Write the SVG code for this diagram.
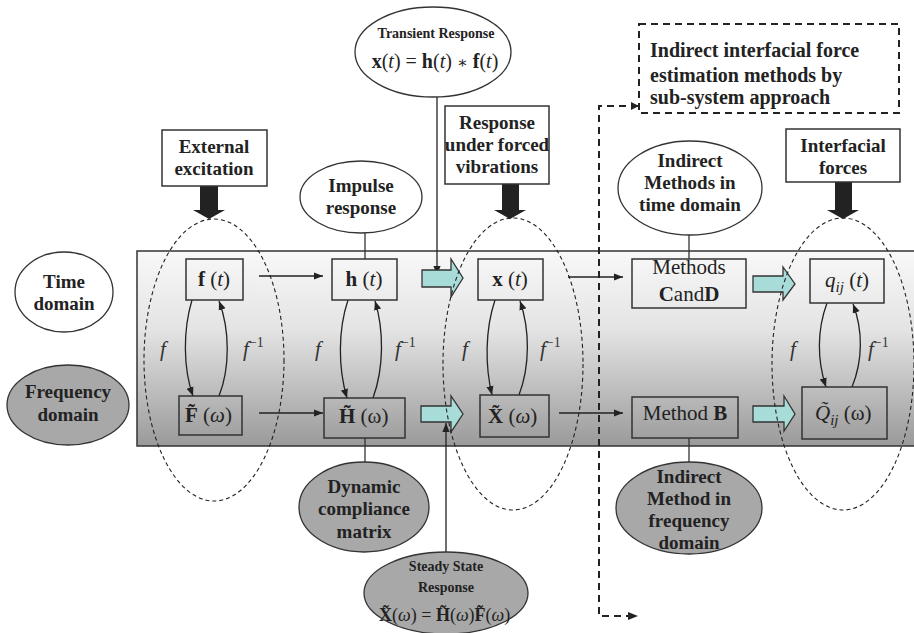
<svg xmlns="http://www.w3.org/2000/svg" width="914" height="633" viewBox="0 0 914 633" font-family="'Liberation Serif', 'Times New Roman', 'DejaVu Serif', serif">
<defs>
<linearGradient id="band" x1="0" y1="0" x2="0" y2="1">
<stop offset="0" stop-color="#f8f8f8"/>
<stop offset="0.4" stop-color="#e4e4e4"/>
<stop offset="1" stop-color="#9a9a9a"/>
</linearGradient>
<marker id="ah" viewBox="0 0 10 10" refX="10" refY="5" markerWidth="9" markerHeight="9" markerUnits="userSpaceOnUse" orient="auto">
<path d="M0,1 L10,5 L0,9 Z" fill="#222"/>
</marker>
<marker id="ahd" viewBox="0 0 10 10" refX="10" refY="5" markerWidth="10" markerHeight="10" markerUnits="userSpaceOnUse" orient="auto">
<path d="M0,1 L10,5 L0,9 Z" fill="#222"/>
</marker>
</defs>
<style>
text{font-family:'Liberation Serif','Times New Roman','DejaVu Serif',serif}
.bx{fill:none;stroke:#333;stroke-width:1.5}
.wb{fill:#fff;stroke:#333;stroke-width:1.5}
.we{fill:#fff;stroke:#333;stroke-width:1.3}
.ge{fill:#a8a8a8;stroke:#333;stroke-width:1.3}
.cy{fill:#a8dcd8;stroke:#333;stroke-width:1.3}
.blk{fill:#222}
.ln{fill:none;stroke:#333;stroke-width:1.3}
.ar{fill:none;stroke:#222;stroke-width:1.3;marker-end:url(#ah)}
.de{fill:none;stroke:#222;stroke-width:1.1;stroke-dasharray:4 3}
.dl{fill:none;stroke:#222;stroke-width:2;stroke-dasharray:7 5}
.lb{font-weight:bold;font-size:19px;fill:#222;text-anchor:middle}
.lbs{font-weight:bold;font-size:20px;fill:#222}
.sm{font-weight:bold;font-size:14px;fill:#222;text-anchor:middle}
.mt{font-size:21px;fill:#222}
.fl{font-style:italic;font-size:21px;fill:#333}
</style>

<rect x="137" y="251" width="800" height="195" fill="url(#band)" stroke="#333" stroke-width="1.5"/>

<g id="connectors">
<path class="ar" d="M259,276 H323"/>
<path class="ar" d="M259,413 H323"/>
<path class="ar" d="M568,277 H623"/>
<path class="ar" d="M559,413 H623"/>
<path class="ar" d="M437,97 V275"/>
<path class="ar" d="M446,552 V423"/>
<path class="ln" d="M365,233 V259"/>
<path class="ln" d="M365,438 V462"/>
<path class="ln" d="M689,235 V259"/>
<path class="ln" d="M689,438 V462"/>
<path class="ar" d="M192,300 C183,330 183,368 193,396"/>
<path class="ar" d="M219,396 C230,368 230,330 219,301"/>
<path class="ar" d="M348,300 C338,330 338,368 347,398"/>
<path class="ar" d="M373,398 C384,368 384,330 375,301"/>
<path class="ar" d="M495,300 C485,330 485,366 492,395"/>
<path class="ar" d="M519,395 C530,366 530,330 520,301"/>
<path class="ar" d="M827,303 C817,330 817,360 826,387"/>
<path class="ar" d="M852,387 C863,360 863,330 853,304"/>
<path class="dl" d="M638,106 H599 V616 H638" style="marker-end:url(#ahd)"/>
<path d="M631,102 L639,106 L631,110 Z" fill="#222"/>
<polygon class="blk" points="200,186 218,186 218,210 225,210 209,219 193,210 200,210"/>
<polygon class="blk" points="502,184 519,184 519,210 526,210 510,219 494,210 502,210"/>
<polygon class="blk" points="835,182 852,182 852,210 859,210 843,219 827,210 835,210"/>
<polygon class="cy" points="422,270 451,270 451,259 463,278 451,297 451,287 422,287"/>
<polygon class="cy" points="421,406 451,406 451,396 463,414 451,432 451,422 421,422"/>
<polygon class="cy" points="753,276 783,276 783,267 795,284 783,300 783,292 753,292"/>
<polygon class="cy" points="753,406 784,406 784,396 795,414 784,431 784,422 753,422"/>
</g>

<g id="dashed-groups">
<ellipse class="de" cx="214" cy="360" rx="70" ry="141"/>
<ellipse class="de" cx="513" cy="364" rx="70" ry="146"/>
<ellipse class="de" cx="843" cy="364" rx="71" ry="146"/>
</g>

<g id="time-domain"><ellipse class="we" cx="64" cy="292" rx="49" ry="40"/>
<text class="lb" x="64" y="288">Time</text><text class="lb" x="64" y="310">domain</text></g>
<g id="frequency-domain"><ellipse class="ge" cx="68" cy="405" rx="61" ry="40"/>
<text class="lb" x="68" y="398">Frequency</text><text class="lb" x="68" y="421">domain</text></g>

<g id="external-excitation"><rect class="wb" x="162" y="130" width="105" height="56"/>
<text class="lb" x="214" y="153">External</text><text class="lb" x="214" y="175">excitation</text></g>
<g id="impulse-response"><ellipse class="we" cx="361" cy="197" rx="61" ry="36"/>
<text class="lb" x="361" y="192">Impulse</text><text class="lb" x="361" y="214">response</text></g>
<g id="transient-response"><ellipse class="we" cx="433" cy="52" rx="78" ry="45"/>
<text class="sm" x="436" y="38">Transient Response</text>
<text class="mt" x="435" y="68" text-anchor="middle" style="font-size:20px"><tspan font-weight="bold">x</tspan>(<tspan font-style="italic">t</tspan>) = <tspan font-weight="bold">h</tspan>(<tspan font-style="italic">t</tspan>) <tspan font-size="16">∗</tspan> <tspan font-weight="bold">f</tspan>(<tspan font-style="italic">t</tspan>)</text></g>
<g id="response-forced"><rect class="wb" x="445" y="106" width="104" height="78"/>
<text class="lb" x="497" y="129">Response</text><text class="lb" x="497" y="151">under forced</text><text class="lb" x="497" y="173">vibrations</text></g>
<g id="indirect-time"><ellipse class="we" cx="690" cy="188" rx="72" ry="47"/>
<text class="lb" x="690" y="167">Indirect</text><text class="lb" x="690" y="189">Methods in</text><text class="lb" x="690" y="211">time domain</text></g>
<g id="interfacial-forces"><rect class="wb" x="786" y="129" width="114" height="53"/>
<text class="lb" x="843" y="152">Interfacial</text><text class="lb" x="843" y="174">forces</text></g>
<g id="subsystem-box"><rect x="639" y="24" width="260" height="89" fill="#fff" stroke="#222" stroke-width="2" stroke-dasharray="7 5"/>
<text class="lbs" x="650" y="57">Indirect interfacial force</text>
<text class="lbs" x="650" y="82">estimation methods by</text>
<text class="lbs" x="650" y="104">sub-system approach</text></g>

<g id="f-t"><rect class="bx" x="186" y="259" width="57" height="41"/>
<text class="mt" x="214" y="286" text-anchor="middle"><tspan font-weight="bold">f</tspan> (<tspan font-style="italic">t</tspan>)</text></g>
<g id="h-t"><rect class="bx" x="332" y="259" width="65" height="41"/>
<text class="mt" x="364" y="286" text-anchor="middle"><tspan font-weight="bold">h</tspan> (<tspan font-style="italic">t</tspan>)</text></g>
<g id="x-t"><rect class="bx" x="478" y="259" width="65" height="41"/>
<text class="mt" x="510" y="286" text-anchor="middle"><tspan font-weight="bold">x</tspan> (<tspan font-style="italic">t</tspan>)</text></g>
<g id="methods-cd"><rect class="bx" x="632" y="259" width="114" height="49"/>
<text class="mt" x="689" y="274" text-anchor="middle">Methods</text>
<text class="mt" x="689" y="301" text-anchor="middle"><tspan font-weight="bold">C</tspan>and<tspan font-weight="bold">D</tspan></text></g>
<g id="q-t"><rect class="bx" x="810" y="259" width="74" height="44"/>
<text class="mt" x="847" y="287" text-anchor="middle"><tspan font-style="italic">q</tspan><tspan font-style="italic" font-size="15" dy="5">ij</tspan><tspan dy="-5"> (</tspan><tspan font-style="italic">t</tspan>)</text></g>

<g id="F-w"><rect class="bx" x="179" y="396" width="63" height="39"/>
<text class="mt" x="185" y="422"><tspan font-weight="bold">F&#771;</tspan> (<tspan font-style="italic">ω</tspan>)</text></g>
<g id="H-w"><rect class="bx" x="324" y="398" width="81" height="40"/>
<text class="mt" x="339" y="423"><tspan font-weight="bold">H&#771;</tspan> (ω)</text></g>
<g id="X-w"><rect class="bx" x="480" y="395" width="69" height="42"/>
<text class="mt" x="488" y="423"><tspan font-weight="bold">X&#771;</tspan> (<tspan font-style="italic">ω</tspan>)</text></g>
<g id="method-b"><rect class="bx" x="632" y="397" width="106" height="41"/>
<text class="mt" x="685" y="420" text-anchor="middle">Method <tspan font-weight="bold">B</tspan></text></g>
<g id="Q-w"><rect class="bx" x="802" y="387" width="85" height="52"/>
<text class="mt" x="815" y="420"><tspan font-style="italic">Q&#771;</tspan><tspan font-style="italic" font-size="15" dy="5">ij</tspan><tspan dy="-5"> (ω)</tspan></text></g>

<g id="labels-f">
<text class="fl" x="160" y="356">f</text><text class="fl" x="243" y="356">f<tspan font-style="normal" font-size="14" dy="-9">−1</tspan></text>
<text class="fl" x="315" y="356">f</text><text class="fl" x="395" y="356">f<tspan font-style="normal" font-size="14" dy="-9">−1</tspan></text>
<text class="fl" x="462" y="356">f</text><text class="fl" x="540" y="356">f<tspan font-style="normal" font-size="14" dy="-9">−1</tspan></text>
<text class="fl" x="790" y="356">f</text><text class="fl" x="868" y="356">f<tspan font-style="normal" font-size="14" dy="-9">−1</tspan></text>
</g>

<g id="dynamic-compliance"><ellipse class="ge" cx="364" cy="507" rx="65" ry="45"/>
<text class="lb" x="364" y="493">Dynamic</text><text class="lb" x="364" y="515">compliance</text><text class="lb" x="364" y="538">matrix</text></g>
<g id="indirect-frequency"><ellipse class="ge" cx="689" cy="508" rx="73" ry="46"/>
<text class="lb" x="689" y="483">Indirect</text><text class="lb" x="689" y="505">Method in</text><text class="lb" x="689" y="527">frequency</text><text class="lb" x="689" y="549">domain</text></g>
<g id="steady-state"><ellipse class="ge" cx="446" cy="593" rx="82" ry="41"/>
<text class="sm" x="446" y="571">Steady State</text><text class="sm" x="446" y="592">Response</text>
<text class="mt" x="379" y="621" style="font-size:18px"><tspan font-weight="bold">X&#771;</tspan>(<tspan font-style="italic">ω</tspan>) = <tspan font-weight="bold">H&#771;</tspan>(<tspan font-style="italic">ω</tspan>)<tspan font-weight="bold">F&#771;</tspan>(<tspan font-style="italic">ω</tspan>)</text></g>
</svg>
